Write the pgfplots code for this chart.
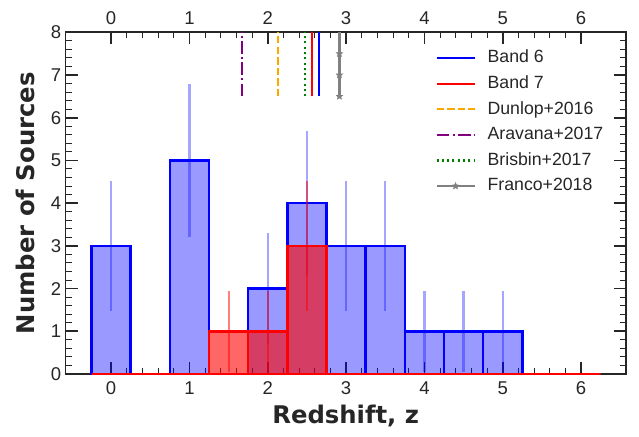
\documentclass[border=0pt]{standalone}
\usepackage{fontspec}
\setmainfont{Liberation Sans}
\newfontfamily\labelfont{DejaVu Sans}
\usepackage{pgfplots}
\pgfplotsset{compat=1.18}

\definecolor{txt}{RGB}{38,38,38}
\definecolor{morange}{RGB}{255,165,0}
\definecolor{mpurple}{RGB}{128,0,128}
\definecolor{mgreen}{RGB}{0,128,0}
\definecolor{mgray}{RGB}{128,128,128}

% filled five-point star, like the matplotlib '*' marker
\pgfdeclareplotmark{fstar}{%
  \pgfpathmoveto{\pgfpointpolar{90}{\pgfplotmarksize}}%
  \pgfpathlineto{\pgfpointpolar{126}{0.45\pgfplotmarksize}}%
  \pgfpathlineto{\pgfpointpolar{162}{\pgfplotmarksize}}%
  \pgfpathlineto{\pgfpointpolar{198}{0.45\pgfplotmarksize}}%
  \pgfpathlineto{\pgfpointpolar{234}{\pgfplotmarksize}}%
  \pgfpathlineto{\pgfpointpolar{270}{0.45\pgfplotmarksize}}%
  \pgfpathlineto{\pgfpointpolar{306}{\pgfplotmarksize}}%
  \pgfpathlineto{\pgfpointpolar{342}{0.45\pgfplotmarksize}}%
  \pgfpathlineto{\pgfpointpolar{18}{\pgfplotmarksize}}%
  \pgfpathlineto{\pgfpointpolar{54}{0.45\pgfplotmarksize}}%
  \pgfpathclose\pgfusepathqfillstroke}

\begin{document}
\begin{tikzpicture}
\begin{axis}[
    name=ax,
    scale only axis,
    width=560pt, height=341.7pt,
    xmin=-0.58, xmax=6.57,
    ymin=0, ymax=8,
    xtick={0,...,6}, ytick={0,...,8},
    minor x tick num=4, minor y tick num=4,
    tick pos=both, tick align=inside,
    major tick length=12pt, minor tick length=6pt,
    every major tick/.append style={txt, line width=1.6pt},
    every minor tick/.append style={txt, line width=1pt},
    axis line style={txt, line width=1.6pt},
    /pgf/number format/assume math mode=true,
    ticklabel style={font=\fontsize{18.5}{20}\selectfont, text=txt},
    xticklabel style={yshift=-4pt},
    yticklabel style={xshift=-1pt},
    xlabel={Redshift, z},
    ylabel={Number of Sources},
    label style={font=\labelfont\fontsize{24.3}{28}\selectfont\bfseries, text=txt},
    xlabel style={yshift=-4pt},
    ylabel style={yshift=9pt},
    legend cell align=left,
    legend style={draw=none, fill=none, at={(0.6545,0.958)}, anchor=north west,
        font=\fontsize{17.7}{20}\selectfont, text=txt, row sep=7.1pt,
        nodes={inner sep=1pt, text height=13pt, text depth=3.5pt}},
    legend image code/.code={%
        \draw[#1, mark indices={2}] plot coordinates {(0pt,0pt) (19pt,0pt) (38pt,0pt)};
        \path (49pt,0pt);},
]
% Band 6 histogram
\addplot[ybar, bar width=0.5, bar shift=0pt, draw=blue, line width=2.6pt,
    fill=blue, fill opacity=0.4, forget plot] coordinates {
    (0,3) (0.5,0) (1,5) (1.5,0) (2,2) (2.5,4) (3,3) (3.5,3) (4,1) (4.5,1) (5,1)
};
\addplot[blue, opacity=0.35, line width=2.2pt, unbounded coords=jump, forget plot] coordinates {
    (0,1.47) (0,4.53) (0,nan)
    (1,3.2) (1,6.8) (1,nan)
    (2,0.7) (2,3.3) (2,nan)
    (2.5,2.3) (2.5,5.7) (2.5,nan)
    (3,1.47) (3,4.53) (3,nan)
    (3.5,1.47) (3.5,4.53) (3.5,nan)
    (4,0.05) (4,1.95) (4,nan)
    (4.5,0.05) (4.5,1.95) (4.5,nan)
    (5,0.05) (5,1.95)
};
% Band 7 histogram
\addplot[ybar, bar width=0.5, bar shift=0pt, draw=red, line width=2.6pt,
    fill=red, fill opacity=0.6, forget plot] coordinates {
    (0,0) (0.5,0) (1,0) (1.5,1) (2,1) (2.5,3) (3,0) (3.5,0) (4,0) (4.5,0) (5,0) (5.5,0) (6,0)
};
\addplot[red, opacity=0.5, line width=2.2pt, unbounded coords=jump, forget plot] coordinates {
    (1.5,0.05) (1.5,1.95) (1.5,nan)
    (2,0.05) (2,1.95) (2,nan)
    (2.5,1.47) (2.5,4.53)
};
% median redshifts
\addplot[blue, line width=2.2pt] coordinates {(2.656,6.5) (2.656,8)};
\addlegendentry{Band 6}
\addplot[red, line width=2.2pt] coordinates {(2.562,6.5) (2.562,8)};
\addlegendentry{Band 7}
\addplot[morange, line width=2.2pt, dash pattern=on 7.4pt off 3.2pt] coordinates {(2.127,6.5) (2.127,8)};
\addlegendentry{Dunlop+2016}
\addplot[mpurple, line width=2.2pt, dash pattern=on 12.8pt off 3.2pt on 2pt off 3.2pt] coordinates {(1.668,6.5) (1.668,8)};
\addlegendentry{Aravana+2017}
\addplot[mgreen, line width=2.2pt, dash pattern=on 2pt off 3.3pt] coordinates {(2.478,6.5) (2.478,8)};
\addlegendentry{Brisbin+2017}
\addplot[mgray, line width=2.2pt, mark=fstar, mark size=3.5pt, mark indices={1,2,3},
    mark options={solid, fill=mgray, line width=0.4pt}] coordinates {(2.915,6.5) (2.915,7) (2.915,7.5) (2.915,8)};
\addlegendentry{Franco+2018}
\end{axis}
% tick labels along the top
\begin{axis}[
    scale only axis,
    width=560pt, height=341.7pt,
    xmin=-0.58, xmax=6.57,
    ymin=0, ymax=8,
    axis x line*=top, hide y axis,
    x axis line style={draw=none},
    xtick={0,...,6},
    major tick length=0pt,
    /pgf/number format/assume math mode=true,
    ticklabel style={font=\fontsize{18.5}{20}\selectfont, text=txt},
    xticklabel style={yshift=4pt},
]
\addplot[draw=none] coordinates {(0,0)};
\end{axis}
\pgfresetboundingbox
\path[use as bounding box] (ax.south west) ++(-65.7pt,-62pt) rectangle ++(639pt,436pt);
\end{tikzpicture}
\end{document}
